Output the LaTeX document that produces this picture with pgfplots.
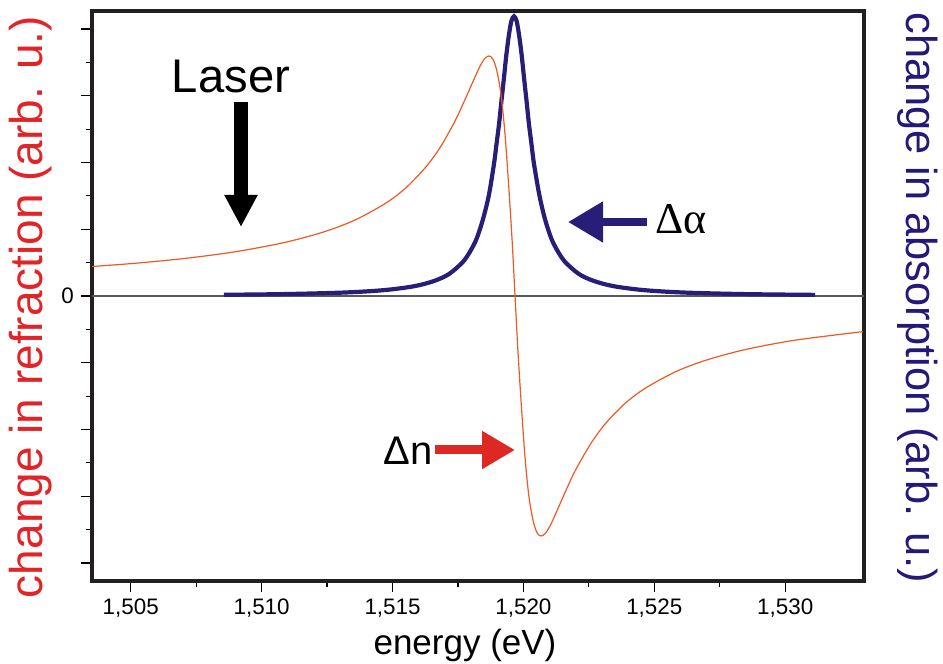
\documentclass[border=0pt]{standalone}
\usepackage{pgfplots}
\pgfplotsset{compat=1.18}
\usepackage{fontspec}
\setmainfont{Liberation Sans}
\newfontfamily\serifgreek{Liberation Serif}
\usetikzlibrary{arrows.meta}
\definecolor{dnorange}{RGB}{238,88,36}
\definecolor{dablue}{RGB}{40,30,120}
\definecolor{lred}{RGB}{226,36,40}
\definecolor{rblue}{RGB}{35,25,120}
\definecolor{arrred}{RGB}{222,40,36}
\definecolor{axblack}{RGB}{35,31,32}
\begin{document}
\begin{tikzpicture}
\useasboundingbox (-46pt,-41.5pt) rectangle (425.5pt,290.5pt);
\begin{axis}[
  at={(0,0)}, anchor=south west,
  scale only axis, width=386pt, height=285pt,
  xmin=1.50352, xmax=1.53301, ymin=-4.27, ymax=4.27,
  xtick={1.505,1.51,1.515,1.52,1.525,1.53},
  minor x tick num=1,
  ytick={-4,-3,-2,-1,0,1,2,3,4},
  yticklabels={,,,,0,,,,},
  minor y tick num=1,
  tick align=outside, xtick pos=bottom, ytick pos=left,
  axis line style={line width=1.6pt, color=axblack},
  major tick length=5.5pt, minor tick length=3pt,
  tick style={line width=0.6pt, color=black},
  ticklabel style={font=\fontsize{11.2}{13}\selectfont},
  xticklabel style={/pgf/number format/.cd, use comma, fixed, fixed zerofill, precision=3},
  /pgf/number format/assume math mode=true,
  clip=false,
]
\draw[color=black!65, line width=0.6pt] (rel axis cs:0,0.5) -- (rel axis cs:1,0.5);
\addplot[dablue, line width=2.1pt, smooth, no markers] coordinates {
(1.50856,0.0179) (1.51085,0.0284) (1.51315,0.0517) (1.51467,0.0876) (1.51582,0.146)
(1.51658,0.224) (1.51716,0.330) (1.51773,0.529) (1.51811,0.771) (1.51830,0.954)
(1.51849,1.20) (1.51869,1.53) (1.51888,1.99) (1.51897,2.27) (1.51907,2.58)
(1.51916,2.92) (1.51926,3.28) (1.51935,3.62) (1.51945,3.92) (1.51954,4.12)
(1.51964,4.19) (1.51974,4.12) (1.51983,3.92) (1.51993,3.62) (1.52002,3.28)
(1.52012,2.92) (1.52021,2.58) (1.52031,2.27) (1.52040,1.99) (1.52060,1.53)
(1.52079,1.20) (1.52098,0.954) (1.52117,0.771) (1.52155,0.529) (1.52212,0.330)
(1.52270,0.224) (1.52346,0.146) (1.52461,0.0876) (1.52613,0.0517) (1.52843,0.0284)
(1.53114,0.0166)
};
\addplot[dnorange, line width=0.6pt, smooth, no markers] coordinates {
(1.50352,0.442) (1.50516,0.490) (1.50707,0.563) (1.50898,0.662) (1.51089,0.803)
(1.51242,0.966) (1.51357,1.139) (1.51471,1.383) (1.51548,1.610) (1.51624,1.918)
(1.51682,2.226) (1.51739,2.624) (1.51777,2.944) (1.51808,3.219) (1.51834,3.443)
(1.51853,3.560) (1.51869,3.596) (1.51884,3.547) (1.51899,3.366) (1.51915,3.002)
(1.51930,2.410) (1.51945,1.576) (1.51957,0.819) (1.51968,0.0) (1.51979,-0.819)
(1.51991,-1.576) (1.52006,-2.410) (1.52021,-3.002) (1.52037,-3.366) (1.52052,-3.547)
(1.52067,-3.596) (1.52083,-3.560) (1.52102,-3.443) (1.52128,-3.219) (1.52159,-2.944)
(1.52197,-2.624) (1.52255,-2.226) (1.52312,-1.918) (1.52388,-1.610) (1.52465,-1.383)
(1.52579,-1.139) (1.52694,-0.966) (1.52847,-0.803) (1.53038,-0.662) (1.53297,-0.534)
};
\end{axis}
% annotations
\node[anchor=base, inner sep=0pt, font=\fontsize{23.6}{26}\selectfont] at (69.5pt,244pt) {Laser};
\draw[black, line width=7pt, -{Triangle[length=16pt,width=15.5pt]}] (74.5pt,239.5pt) -- (74.5pt,177pt);
\draw[dablue, line width=4pt, -{Triangle[length=17.5pt,width=19.5pt]}] (277.5pt,179.5pt) -- (238pt,179.5pt);
\node[anchor=base west, inner sep=0pt, font=\serifgreek\fontsize{22}{25}\selectfont] at (281.5pt,173.5pt) {Δα};
\draw[arrred, line width=4.5pt, -{Triangle[length=16.5pt,width=18pt]}] (171.5pt,65.5pt) -- (211.5pt,65.5pt);
\node[anchor=base west, inner sep=0pt, font=\fontsize{20}{23}\selectfont] at (145.5pt,58pt) {Δn};
% axis labels
\node[anchor=base, inner sep=0pt, font=\fontsize{17.5}{20}\selectfont] at (186.5pt,-37pt) {energy (eV)};
\node[anchor=base, inner sep=0pt, rotate=90, text=lred, font=\fontsize{23}{26}\selectfont] at (-25pt,137pt) {change in refraction (arb. u.)};
\node[anchor=base, inner sep=0pt, rotate=-90, text=rblue, font=\fontsize{21.7}{24}\selectfont] at (407pt,141.5pt) {change in absorption (arb. u.)};
\end{tikzpicture}
\end{document}
